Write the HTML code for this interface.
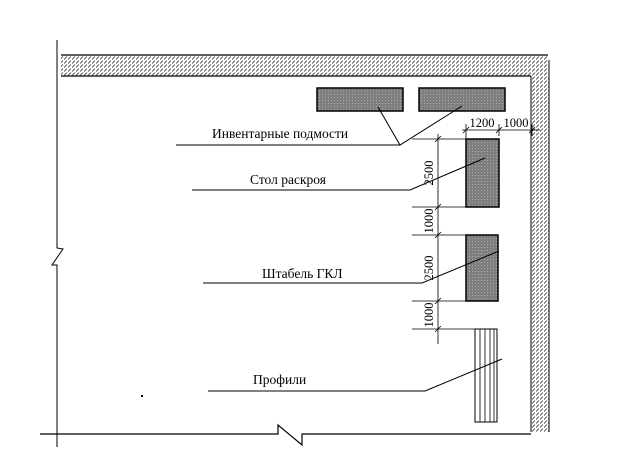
<!DOCTYPE html>
<html><head><meta charset="utf-8"><style>html,body{margin:0;padding:0;background:#fff}svg{display:block}</style></head>
<body>
<svg width="618" height="451" viewBox="0 0 618 451" xmlns="http://www.w3.org/2000/svg" font-family="Liberation Serif, serif" fill="none" stroke="#000">
<defs>
<pattern id="h" width="4" height="4" patternUnits="userSpaceOnUse"><path d="M0,3.5 L3,0.5" stroke="#333" stroke-width="0.8"/></pattern>
<pattern id="g" width="3" height="3" patternUnits="userSpaceOnUse"><rect width="3" height="3" fill="#7e7e7e" stroke="none"/><rect x="1" y="1" width="1" height="1" fill="#aaa" stroke="none"/></pattern>
</defs>
<path d="M57,40 V248 L63,249 L52,265 H57 V447" stroke-width="1"/>
<rect x="61" y="55" width="487" height="21" fill="url(#h)" stroke="none"/>
<path d="M61,55 H548 M61,76 H531" stroke-width="1.2"/>
<rect x="531" y="76" width="18" height="356" fill="url(#h)" stroke="none"/>
<path d="M531,76 V432 M549,60 V432" stroke-width="1"/>
<path d="M40,434 H278 V425 L302,445 V434 H531" stroke-width="1.2"/>
<rect x="317" y="88" width="86" height="23" fill="url(#g)" stroke-width="1.5"/>
<rect x="419" y="88" width="86" height="23" fill="url(#g)" stroke-width="1.5"/>
<path d="M378,107 L400,145 L462,106 M176,145 H400" stroke-width="1"/>
<path d="M462,130 H540 M466,124 V139 M499,124 V136 M532,124 V136" stroke-width="0.8"/>
<path d="M463,133 L469,127 M496,133 L502,127 M529,133 L535,127" stroke-width="0.8"/>
<text x="482" y="127" font-size="12.5" fill="#000" stroke="none" text-anchor="middle">1200</text>
<text x="516" y="127" font-size="12.5" fill="#000" stroke="none" text-anchor="middle">1000</text>
<rect x="466" y="139" width="33" height="68" fill="url(#g)" stroke-width="1.5"/>
<rect x="466" y="235" width="32" height="66" fill="url(#g)" stroke-width="1.5"/>
<rect x="475" y="329" width="22" height="93" stroke-width="1"/>
<path d="M480,329 V422 M485,329 V422 M490,329 V422 M494,329 V422" stroke-width="0.8"/>
<path d="M438,134 V344 M412,139 H466 M412,207 H466 M412,235 H466 M412,301 H466 M412,329 H475" stroke-width="0.8"/>
<path d="M435,142 L441,136 M435,210 L441,204 M435,238 L441,232 M435,304 L441,298 M435,332 L441,326" stroke-width="0.8"/>
<g fill="#000" stroke="none" font-size="12.5">
<text transform="translate(433,173) rotate(-90)" text-anchor="middle">2500</text>
<text transform="translate(433,221) rotate(-90)" text-anchor="middle">1000</text>
<text transform="translate(433,268) rotate(-90)" text-anchor="middle">2500</text>
<text transform="translate(433,315) rotate(-90)" text-anchor="middle">1000</text>
</g>
<path d="M192,190 H410 L485,158" stroke-width="1"/>
<path d="M203,283 H422 L499,251" stroke-width="1"/>
<path d="M208,391 H425 L502,359" stroke-width="1"/>
<g fill="#000" stroke="none" font-size="13.5">
<text x="212" y="138">Инвентарные подмости</text>
<text x="250" y="184">Стол раскроя</text>
<text x="262" y="278">Штабель ГКЛ</text>
<text x="253" y="384">Профили</text>
</g>
<rect x="141" y="395" width="2" height="2" fill="#000" stroke="none"/>
</svg>
</body></html>
